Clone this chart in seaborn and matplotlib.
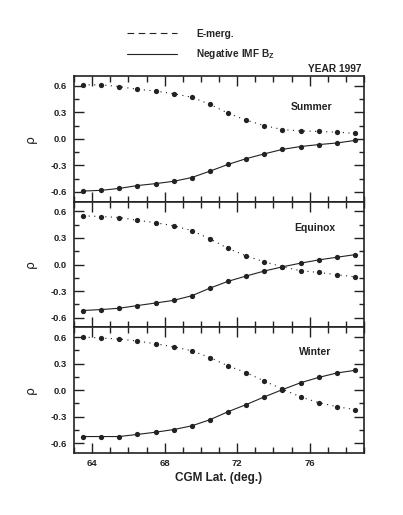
import matplotlib
matplotlib.use("Agg")
import matplotlib.pyplot as plt
from matplotlib.lines import Line2D
from matplotlib.ticker import MultipleLocator
import seaborn as sns
import pandas as pd

# ---- data ----
lat = [63.5, 64.5, 65.5, 66.5, 67.5, 68.5, 69.5, 70.5,
       71.5, 72.5, 73.5, 74.5, 75.5, 76.5, 77.5, 78.5]

summer_emerg = [0.61, 0.61, 0.59, 0.56, 0.54, 0.51, 0.47, 0.39,
                0.29, 0.21, 0.15, 0.105, 0.09, 0.083, 0.076, 0.061]
summer_bz = [-0.59, -0.582, -0.56, -0.528, -0.506, -0.48, -0.437, -0.365,
             -0.289, -0.224, -0.17, -0.119, -0.087, -0.065, -0.047, -0.018]

equinox_emerg = [0.55, 0.542, 0.531, 0.50, 0.472, 0.438, 0.383, 0.29,
                 0.182, 0.097, 0.03, -0.026, -0.07, -0.09, -0.115, -0.14]
equinox_bz = [-0.52, -0.509, -0.494, -0.464, -0.435, -0.405, -0.353, -0.267,
              -0.19, -0.13, -0.074, -0.026, 0.015, 0.052, 0.082, 0.111]

winter_emerg = [0.60, 0.589, 0.578, 0.555, 0.524, 0.49, 0.445, 0.369,
                0.274, 0.198, 0.103, 0.011, -0.076, -0.141, -0.186, -0.22]
winter_bz = [-0.524, -0.524, -0.524, -0.50, -0.475, -0.445, -0.403, -0.334,
             -0.243, -0.163, -0.076, 0.006, 0.084, 0.144, 0.194, 0.224]

seasons = ["Summer", "Equinox", "Winter"]
series_names = ["E-merg.", "Negative IMF Bz"]
season_data = {
    "Summer": (summer_emerg, summer_bz),
    "Equinox": (equinox_emerg, equinox_bz),
    "Winter": (winter_emerg, winter_bz),
}
yticks = [-0.6, -0.3, 0.0, 0.3, 0.6]
ytick_labels = ["-0.6", "-0.3", "0.0", "0.3", "0.6"]
xticks = [64, 68, 72, 76]
xtick_labels = ["64", "68", "72", "76"]

rows = []
for s in seasons:
    em, bz = season_data[s]
    for x, v in zip(lat, em):
        rows.append({"season": s, "series": series_names[0], "lat": x, "rho": v})
    for x, v in zip(lat, bz):
        rows.append({"season": s, "series": series_names[1], "lat": x, "rho": v})
df = pd.DataFrame(rows)

# ---- style ----
sns.set_style("ticks")
plt.rcParams["font.family"] = ["Liberation Sans", "DejaVu Sans"]
plt.rcParams["font.weight"] = "bold"
plt.rcParams["mathtext.fontset"] = "custom"
plt.rcParams["mathtext.rm"] = "Liberation Sans:bold"
plt.rcParams["mathtext.bf"] = "Liberation Sans:bold"

fig, axes = plt.subplots(3, 1, figsize=(4.03, 5.15), dpi=100, sharex=True)
fig.subplots_adjust(left=74/403, right=364/403, top=1-76/515, bottom=1-453/515, hspace=0)

label_pos = {"Summer": (0.82, 0.75), "Equinox": (0.83, 0.79), "Winter": (0.833, 0.80)}

for ax, s in zip(axes, seasons):
    sub = df[df["season"] == s]
    sns.lineplot(data=sub, x="lat", y="rho", hue="series", style="series",
                 palette={series_names[0]: "#222222", series_names[1]: "#222222"},
                 markers={series_names[0]: "o", series_names[1]: "o"},
                 dashes={series_names[0]: (1, 4), series_names[1]: ""},
                 markersize=3.8, markeredgewidth=0, linewidth=0.8,
                 legend=False, ax=ax)
    ax.set_xlim(63, 79)
    ax.set_ylim(-0.71, 0.71)
    ax.set_yticks(yticks)
    ax.set_yticklabels(ytick_labels)
    ax.yaxis.set_minor_locator(MultipleLocator(0.15))
    ax.set_xticks(xticks)
    ax.xaxis.set_minor_locator(MultipleLocator(1))
    ax.tick_params(which="both", direction="in", top=True, right=True,
                   width=1.0, colors="#222222", labelsize=6.8, labelcolor="#222222")
    ax.tick_params(axis="x", which="major", length=7.5, pad=4)
    ax.tick_params(axis="x", which="minor", length=4)
    ax.tick_params(axis="y", which="major", length=7.2, pad=5)
    ax.tick_params(axis="y", which="minor", length=3.6)
    for sp in ax.spines.values():
        sp.set_linewidth(1.2)
        sp.set_color("#222222")
    ax.set_ylabel("ρ", fontsize=9, labelpad=10, color="#222222",
                  family=["DejaVu Sans"])
    ax.set_xlabel("")
    lx, ly = label_pos[s]
    ax.text(lx, ly, s, transform=ax.transAxes, ha="center", va="center",
            fontsize=7.5, fontweight="bold", color="#222222")

axes[-1].set_xticklabels(xtick_labels)
axes[-1].set_xlabel("CGM Lat. (deg.)", fontsize=8.5, fontweight="bold",
                    color="#222222", labelpad=3)

fig.text(361/403, 1-69/515, "YEAR 1997", ha="right", va="center",
         fontsize=7.3, fontweight="bold", color="#222222")

handles = [Line2D([], [], color="#222222", lw=0.8, ls=(0, (6, 4))),
           Line2D([], [], color="#222222", lw=0.8, ls="-")]
fig.legend(handles=handles, labels=["E-merg.", "Negative IMF B$_\\mathrm{Z}$"],
           loc="upper left", bbox_to_anchor=(127/403, 1-29/515),
           frameon=False, fontsize=7.3, handlelength=4.9, handletextpad=1.9,
           labelspacing=0.8, borderpad=0, borderaxespad=0)

fig.savefig("out.png", dpi=100, facecolor="white")
